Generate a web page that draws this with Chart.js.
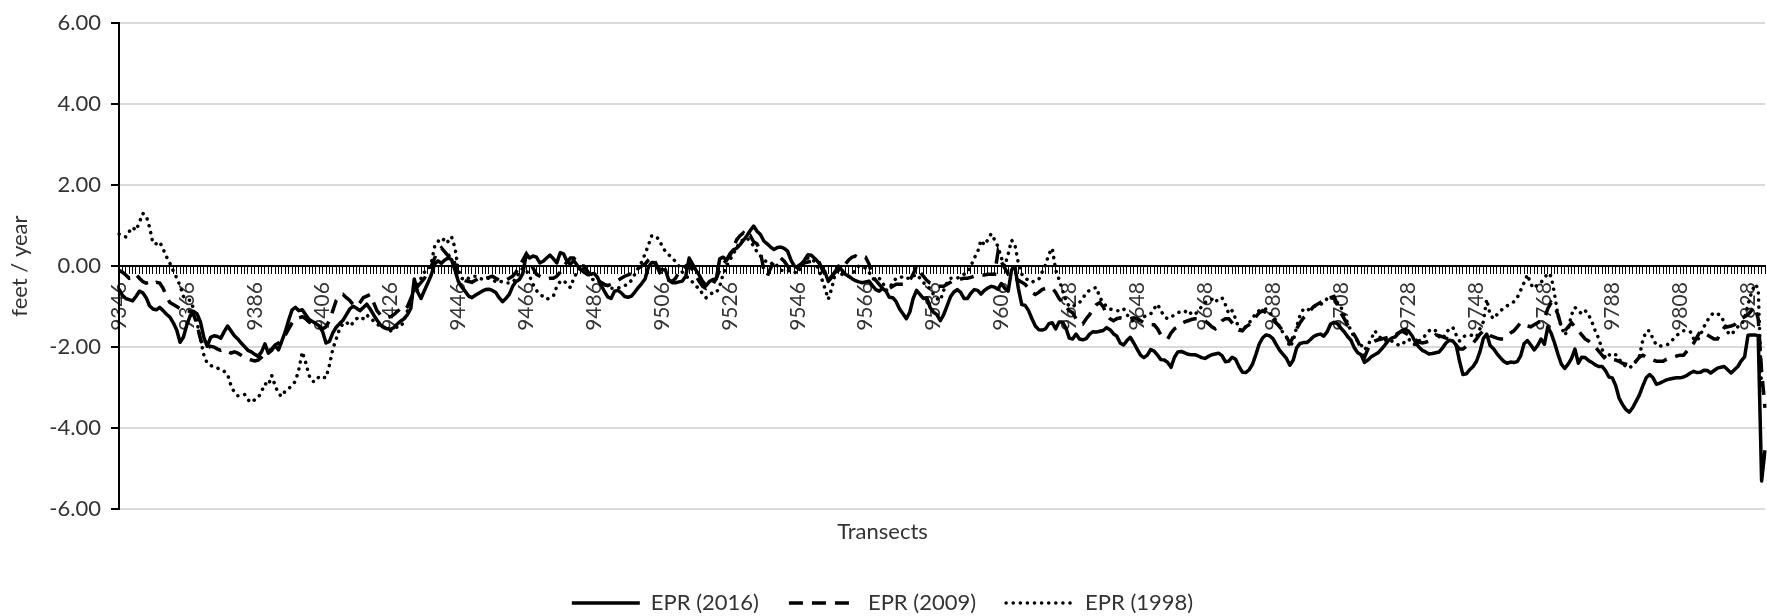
<!DOCTYPE html>
<html lang="en">
<head>
<meta charset="UTF-8" />
<title>EPR by transect</title>
<style>
  html, body { margin: 0; padding: 0; background: #fff; }
  #wrap { width: 1767px; height: 616px; }
</style>
</head>
<body>
<div id="wrap"><canvas id="eprChart" width="1767" height="616"></canvas></div>

<script src="https://cdn.jsdelivr.net/npm/chart.js"></script>
<script>
  // transect IDs run in two blocks (a couple of IDs are missing before 9628)
  const transectRuns = [[9346, 9609], [9612, 9833]];
  const labelEvery = 20;
  const yTicks = [-6, -4, -2, 0, 2, 4, 6];
  const seriesNames = ['EPR (2016)', 'EPR (2009)', 'EPR (1998)'];

  const epr2016 = [
    -0.57,-0.72,-0.80,-0.83,-0.86,-0.75,-0.62,-0.66,-0.78,-0.98,
    -1.06,-1.08,-1.02,-1.10,-1.19,-1.26,-1.40,-1.58,-1.88,-1.75,
    -1.45,-1.22,-1.12,-1.18,-1.38,-1.76,-1.98,-1.76,-1.72,-1.74,
    -1.78,-1.62,-1.48,-1.60,-1.72,-1.80,-1.90,-1.99,-2.08,-2.12,
    -2.18,-2.23,-2.12,-1.92,-2.15,-2.08,-1.96,-2.07,-1.85,-1.62,
    -1.33,-1.08,-1.02,-1.10,-1.08,-1.20,-1.32,-1.37,-1.42,-1.48,
    -1.62,-1.90,-1.86,-1.65,-1.51,-1.42,-1.34,-1.20,-1.06,-0.99,
    -1.04,-1.10,-1.02,-0.94,-1.06,-1.20,-1.33,-1.45,-1.52,-1.55,
    -1.56,-1.52,-1.43,-1.36,-1.30,-1.20,-1.04,-0.32,-0.64,-0.80,
    -0.60,-0.42,-0.22,0.05,0.13,0.07,0.15,0.20,0.16,-0.10,
    -0.38,-0.52,-0.62,-0.74,-0.78,-0.72,-0.67,-0.62,-0.58,-0.57,
    -0.60,-0.65,-0.78,-0.88,-0.80,-0.70,-0.50,-0.38,-0.33,-0.18,
    0.30,0.20,0.25,0.22,0.08,0.12,0.20,0.27,0.18,0.08,
    0.33,0.30,0.12,0.05,0.14,0.02,-0.08,-0.15,-0.20,-0.20,
    -0.18,-0.28,-0.46,-0.62,-0.76,-0.80,-0.62,-0.60,-0.66,-0.75,
    -0.77,-0.74,-0.64,-0.53,-0.43,-0.32,-0.02,0.09,0.08,-0.06,
    -0.09,-0.09,-0.35,-0.41,-0.41,-0.39,-0.37,-0.25,0.20,0.05,
    -0.10,-0.23,-0.38,-0.48,-0.38,-0.33,-0.32,0.18,0.22,0.15,
    0.30,0.40,0.44,0.53,0.64,0.75,0.88,0.99,0.86,0.78,
    0.62,0.55,0.47,0.41,0.46,0.47,0.44,0.37,0.15,0.00,
    -0.05,0.05,0.15,0.28,0.27,0.19,0.10,-0.02,-0.14,-0.38,
    -0.28,-0.14,0.00,-0.10,-0.20,-0.25,-0.31,-0.36,-0.39,-0.41,
    -0.39,-0.37,-0.48,-0.58,-0.62,-0.55,-0.62,-0.77,-0.78,-0.88,
    -1.06,-1.18,-1.30,-1.14,-0.80,-0.60,-0.70,-0.80,-0.78,-1.02,
    -1.14,-1.20,-1.35,-1.20,-0.98,-0.76,-0.64,-0.58,-0.65,-0.80,
    -0.80,-0.67,-0.58,-0.60,-0.69,-0.60,-0.54,-0.50,-0.52,-0.57,
    -0.43,-0.55,-0.62,-0.09,-0.02,-0.55,-0.95,-0.97,-1.10,-1.30,
    -1.48,-1.57,-1.58,-1.55,-1.42,-1.40,-1.55,-1.38,-1.38,-1.53,
    -1.78,-1.80,-1.68,-1.80,-1.82,-1.79,-1.68,-1.62,-1.63,-1.61,
    -1.59,-1.52,-1.57,-1.67,-1.73,-1.90,-1.95,-1.84,-1.76,-1.90,
    -2.05,-2.20,-2.26,-2.20,-2.06,-2.10,-2.20,-2.31,-2.32,-2.38,
    -2.50,-2.25,-2.12,-2.11,-2.14,-2.18,-2.19,-2.19,-2.22,-2.26,
    -2.28,-2.23,-2.19,-2.17,-2.15,-2.21,-2.36,-2.35,-2.25,-2.30,
    -2.48,-2.62,-2.63,-2.56,-2.42,-2.18,-1.92,-1.77,-1.70,-1.72,
    -1.79,-1.94,-2.08,-2.18,-2.28,-2.45,-2.32,-2.02,-1.91,-1.89,
    -1.89,-1.82,-1.74,-1.70,-1.68,-1.73,-1.62,-1.43,-1.39,-1.42,
    -1.53,-1.62,-1.74,-1.83,-2.02,-2.14,-2.19,-2.38,-2.32,-2.24,
    -2.19,-2.14,-2.05,-1.95,-1.84,-1.78,-1.75,-1.66,-1.60,-1.56,
    -1.61,-1.72,-1.88,-2.00,-2.08,-2.12,-2.17,-2.16,-2.14,-2.12,
    -2.02,-1.90,-1.83,-1.85,-1.95,-2.35,-2.68,-2.66,-2.56,-2.48,
    -2.35,-2.12,-1.79,-1.68,-1.96,-2.04,-2.16,-2.26,-2.35,-2.40,
    -2.37,-2.38,-2.36,-2.22,-1.92,-1.84,-1.95,-2.07,-1.96,-1.80,
    -1.93,-1.50,-1.66,-1.90,-2.18,-2.42,-2.53,-2.42,-2.28,-2.05,
    -2.40,-2.25,-2.26,-2.33,-2.38,-2.44,-2.48,-2.48,-2.58,-2.74,
    -2.76,-2.95,-3.26,-3.42,-3.54,-3.61,-3.50,-3.34,-3.18,-2.96,
    -2.76,-2.68,-2.76,-2.92,-2.89,-2.85,-2.81,-2.79,-2.77,-2.76,
    -2.76,-2.74,-2.70,-2.64,-2.60,-2.63,-2.62,-2.57,-2.58,-2.64,
    -2.58,-2.52,-2.50,-2.48,-2.56,-2.64,-2.56,-2.48,-2.34,-2.24,
    -1.71,-1.70,-1.70,-1.72,-5.31,-4.55
  ];

  const epr2009 = [
    -0.10,-0.15,-0.22,-0.30,-0.28,-0.20,-0.30,-0.38,-0.42,-0.40,
    -0.45,-0.40,-0.42,-0.55,-0.75,-0.90,-0.95,-1.00,-1.05,-1.05,
    -1.10,-1.12,-1.20,-1.45,-1.80,-2.00,-2.02,-1.98,-2.00,-2.05,
    -2.08,-2.05,-2.10,-2.15,-2.12,-2.15,-2.20,-2.25,-2.30,-2.32,
    -2.34,-2.32,-2.25,-2.15,-2.10,-2.05,-1.95,-1.90,-1.80,-1.70,
    -1.55,-1.40,-1.30,-1.28,-1.25,-1.30,-1.38,-1.42,-1.45,-1.50,
    -1.55,-1.50,-1.35,-1.10,-0.85,-0.72,-0.70,-0.78,-0.85,-0.95,
    -1.00,-0.90,-0.78,-0.74,-0.70,-0.90,-1.10,-1.20,-1.25,-1.28,
    -1.25,-1.20,-1.12,-1.05,-1.10,-1.00,-0.80,-0.60,-0.50,-0.40,
    -0.30,-0.15,0.00,0.20,0.35,0.45,0.35,0.25,0.30,0.05,
    -0.20,-0.32,-0.36,-0.38,-0.40,-0.35,-0.30,-0.28,-0.30,-0.28,
    -0.25,-0.30,-0.35,-0.38,-0.35,-0.30,-0.25,-0.15,0.00,0.15,
    0.30,0.15,-0.05,-0.20,-0.25,-0.30,-0.32,-0.30,-0.30,-0.25,
    -0.15,0.00,0.10,0.20,0.20,0.10,0.02,0.00,-0.12,-0.25,
    -0.30,-0.35,-0.40,-0.45,-0.48,-0.45,-0.40,-0.35,-0.30,-0.25,
    -0.22,-0.18,-0.10,-0.05,0.00,0.05,0.15,0.22,0.10,-0.10,
    -0.25,-0.30,-0.35,-0.38,-0.30,-0.15,-0.05,0.00,0.05,-0.10,
    -0.25,-0.38,-0.50,-0.55,-0.50,-0.45,-0.30,-0.10,0.05,0.15,
    0.25,0.45,0.65,0.75,0.82,0.70,0.75,0.60,0.55,0.35,
    -0.10,-0.25,-0.05,0.10,0.15,0.20,0.12,0.00,-0.08,-0.05,
    0.00,0.05,0.08,0.10,0.12,0.15,0.15,-0.05,-0.20,-0.35,
    -0.25,-0.15,-0.10,-0.08,0.05,0.15,0.22,0.25,0.20,0.22,
    0.22,0.05,-0.25,-0.35,-0.45,-0.55,-0.62,-0.55,-0.50,-0.45,
    -0.45,-0.45,-0.40,-0.35,-0.20,0.00,-0.15,-0.25,-0.35,-0.42,
    -0.45,-0.48,-0.50,-0.50,-0.45,-0.40,-0.35,-0.35,-0.32,-0.30,
    -0.30,-0.28,-0.25,-0.25,-0.22,-0.22,-0.20,-0.20,-0.20,0.35,
    0.10,-0.05,-0.20,-0.20,-0.30,-0.35,-0.40,-0.45,-0.55,-0.65,
    -0.70,-0.65,-0.58,-0.55,-0.55,-0.55,-0.65,-0.80,-0.90,-1.00,
    -1.10,-1.15,-1.30,-1.40,-1.43,-1.30,-1.20,-1.05,-0.95,-0.90,
    -1.00,-1.20,-1.30,-1.35,-1.30,-1.28,-1.30,-1.32,-1.30,-1.28,
    -1.30,-1.35,-1.40,-1.42,-1.45,-1.45,-1.55,-1.70,-1.78,-1.80,
    -1.65,-1.55,-1.50,-1.42,-1.38,-1.35,-1.32,-1.30,-1.30,-1.30,
    -1.35,-1.42,-1.50,-1.55,-1.45,-1.35,-1.30,-1.30,-1.40,-1.50,
    -1.58,-1.60,-1.50,-1.45,-1.40,-1.25,-1.15,-1.10,-1.15,-1.22,
    -1.30,-1.40,-1.50,-1.60,-1.75,-1.90,-1.75,-1.55,-1.40,-1.28,
    -1.20,-1.10,-1.00,-0.95,-0.90,-0.85,-0.80,-0.78,-0.75,-0.95,
    -1.15,-1.30,-1.45,-1.60,-1.70,-1.85,-2.05,-2.25,-2.05,-1.90,
    -1.85,-1.82,-1.80,-1.78,-1.76,-1.75,-1.70,-1.65,-1.60,-1.65,
    -1.70,-1.75,-1.82,-1.88,-1.90,-1.88,-1.85,-1.78,-1.70,-1.72,
    -1.75,-1.78,-1.80,-1.85,-1.95,-2.05,-2.05,-1.98,-1.92,-1.90,
    -1.80,-1.68,-1.60,-1.65,-1.72,-1.75,-1.78,-1.80,-1.80,-1.72,
    -1.65,-1.60,-1.50,-1.40,-1.42,-1.48,-1.50,-1.45,-1.40,-1.35,
    -1.30,-1.05,-0.90,-1.00,-1.20,-1.50,-1.60,-1.50,-1.40,-1.50,
    -1.60,-1.70,-1.80,-1.85,-1.92,-2.00,-2.10,-2.20,-2.30,-2.30,
    -2.30,-2.32,-2.35,-2.40,-2.42,-2.45,-2.45,-2.35,-2.25,-2.20,
    -2.25,-2.30,-2.32,-2.35,-2.35,-2.35,-2.30,-2.28,-2.25,-2.22,
    -2.20,-2.20,-2.10,-2.00,-1.90,-1.75,-1.60,-1.65,-1.70,-1.75,
    -1.80,-1.80,-1.65,-1.52,-1.50,-1.48,-1.45,-1.35,-1.30,-1.25,
    -1.20,-1.10,-1.00,-1.30,-2.60,-3.50
  ];

  const epr1998 = [
    0.79,0.75,0.72,0.85,0.96,0.88,1.08,1.30,1.25,0.96,
    0.56,0.55,0.60,0.42,0.23,0.07,-0.12,-0.29,-0.49,-0.75,
    -0.82,-0.85,-1.05,-1.40,-1.80,-2.20,-2.40,-2.45,-2.50,-2.52,
    -2.55,-2.60,-2.68,-2.95,-3.12,-3.20,-3.20,-3.17,-3.30,-3.37,
    -3.30,-3.25,-3.10,-2.90,-2.95,-2.70,-2.95,-3.15,-3.22,-3.08,
    -3.02,-2.95,-2.84,-2.55,-2.12,-2.38,-2.70,-2.85,-2.85,-2.72,
    -2.74,-2.76,-2.45,-2.05,-1.80,-1.55,-1.42,-1.38,-1.48,-1.40,
    -1.30,-1.25,-1.30,-1.20,-1.30,-1.35,-1.42,-1.50,-1.50,-1.55,
    -1.60,-1.55,-1.50,-1.50,-1.35,-1.10,-0.85,-0.60,-0.45,-0.30,
    -0.15,-0.10,0.07,0.48,0.62,0.58,0.70,0.60,0.72,0.45,
    -0.10,-0.30,-0.35,-0.30,-0.25,-0.25,-0.30,-0.32,-0.30,-0.30,
    -0.35,-0.38,-0.35,-0.40,-0.42,-0.42,-0.40,-0.30,-0.15,-0.05,
    -0.10,-0.25,-0.45,-0.60,-0.70,-0.75,-0.82,-0.78,-0.74,-0.50,
    -0.38,-0.35,-0.45,-0.53,-0.30,-0.15,0.00,-0.10,-0.20,-0.30,
    -0.35,-0.38,-0.40,-0.45,-0.50,-0.55,-0.55,-0.55,-0.50,-0.48,
    -0.45,-0.35,-0.20,-0.05,0.10,0.30,0.52,0.76,0.72,0.68,
    0.50,0.36,0.28,0.20,0.11,0.00,-0.15,-0.25,-0.30,-0.40,
    -0.50,-0.55,-0.70,-0.78,-0.70,-0.66,-0.66,-0.50,-0.20,0.00,
    0.15,0.30,0.45,0.60,0.65,0.70,0.60,0.50,0.35,0.25,
    0.15,0.10,0.05,0.10,0.00,-0.10,-0.12,-0.10,-0.15,-0.15,
    -0.18,0.00,0.10,0.20,0.20,0.10,-0.05,-0.30,-0.55,-0.82,
    -0.55,-0.20,-0.10,-0.20,-0.25,-0.25,-0.20,-0.10,0.00,0.00,
    -0.05,-0.15,-0.30,-0.35,-0.30,-0.40,-0.60,-0.55,-0.40,-0.30,
    -0.30,-0.25,-0.30,-0.30,-0.25,-0.20,-0.30,-0.40,-0.50,-0.55,
    -0.70,-0.80,-0.85,-0.60,-0.40,-0.30,-0.30,-0.30,-0.25,-0.20,
    -0.15,0.00,0.20,0.35,0.64,0.52,0.65,0.80,0.65,0.48,
    0.20,0.00,0.30,0.64,0.52,0.07,-0.20,-0.30,-0.35,-0.40,
    -0.35,-0.33,-0.15,0.03,0.30,0.44,-0.10,-0.33,-0.60,-0.85,
    -1.00,-1.00,-0.95,-0.90,-0.80,-0.65,-0.60,-0.55,-0.53,-0.78,
    -0.90,-1.00,-1.06,-1.08,-1.10,-1.10,-1.05,-1.20,-1.30,-1.38,
    -1.35,-1.30,-1.25,-1.22,-1.18,-1.05,-0.94,-1.10,-1.25,-1.30,
    -1.26,-1.20,-1.15,-1.12,-1.10,-1.20,-1.15,-1.20,-1.10,-1.00,
    -0.90,-0.85,-0.82,-0.90,-0.80,-0.78,-0.95,-1.18,-1.10,-1.30,
    -1.55,-1.60,-1.50,-1.40,-1.30,-1.15,-1.10,-1.08,-1.06,-1.15,
    -1.25,-1.35,-1.50,-1.65,-1.75,-2.00,-1.85,-1.50,-1.22,-1.06,
    -1.10,-1.05,-1.00,-0.98,-0.95,-0.90,-0.80,-0.75,-0.85,-0.90,
    -1.00,-1.20,-1.40,-1.60,-1.75,-1.85,-1.95,-2.07,-1.95,-1.80,
    -1.60,-1.70,-1.80,-1.85,-1.80,-1.85,-1.90,-1.95,-1.95,-1.85,
    -1.80,-1.90,-1.95,-1.85,-1.80,-1.70,-1.60,-1.55,-1.60,-1.75,
    -1.80,-1.65,-1.55,-1.51,-1.70,-1.85,-1.75,-1.71,-1.70,-1.72,
    -1.75,-1.55,-1.38,-0.82,-1.20,-1.30,-1.20,-1.10,-1.05,-0.98,
    -0.94,-0.88,-0.78,-0.60,-0.41,-0.21,-0.45,-0.55,-0.45,-0.40,
    -0.30,-0.17,-0.25,-0.70,-1.22,-1.50,-1.71,-1.55,-1.20,-1.02,
    -1.10,-1.18,-1.10,-1.20,-1.38,-1.60,-1.79,-2.05,-2.28,-2.20,
    -2.15,-2.19,-2.30,-2.40,-2.48,-2.52,-2.45,-2.35,-2.23,-1.83,
    -1.60,-1.60,-1.80,-1.95,-1.98,-1.96,-1.95,-1.90,-1.80,-1.71,
    -1.65,-1.60,-1.60,-1.62,-1.80,-1.85,-1.70,-1.50,-1.35,-1.22,
    -1.15,-1.18,-1.22,-1.40,-1.63,-1.70,-1.60,-1.50,-1.45,-1.30,
    -0.95,-0.66,-0.45,-0.55,-3.05,-3.15
  ];

  const transects = [];
  transectRuns.forEach(function (run) {
    for (let t = run[0]; t <= run[1]; t++) transects.push(String(t));
  });

  const fontFamily = 'Lato, "Liberation Sans", sans-serif';
  const textColor = '#333333';

  new Chart(document.getElementById('eprChart'), {
    type: 'line',
    data: {
      labels: transects,
      datasets: [
        { label: seriesNames[0], data: epr2016, borderColor: '#000', borderWidth: 3.5,
          borderJoinStyle: 'round', borderCapStyle: 'butt' },
        { label: seriesNames[1], data: epr2009, borderColor: '#000', borderWidth: 3.5,
          borderDash: [14, 9], borderCapStyle: 'butt' },
        { label: seriesNames[2], data: epr1998, borderColor: '#000', borderWidth: 3.5,
          borderDash: [0.1, 7], borderCapStyle: 'round' }
      ]
    },
    options: {
      responsive: false,
      animation: false,
      elements: { point: { radius: 0 }, line: { tension: 0, fill: false } },
      layout: { padding: { top: 16, right: 2, bottom: -8, left: 0 } },
      scales: {
        x: {
          type: 'category',
          position: { y: 0 },
          offset: false,
          grid: { drawOnChartArea: false, drawTicks: true, tickLength: 7, color: '#000', lineWidth: 1 },
          border: { color: '#000', width: 2 },
          ticks: {
            autoSkip: false, minRotation: 90, maxRotation: 90, padding: 9,
            color: textColor, font: { family: fontFamily, size: 21 },
            callback: function (v, i) { return i % labelEvery === 0 ? transects[i] : ''; }
          },
          afterFit: function (s) { s.height = 0; s.paddingLeft = 0; s.paddingRight = 0; }
        },
        y: {
          min: -6, max: 6,
          afterBuildTicks: function (s) { s.ticks = yTicks.map(function (v) { return { value: v }; }); },
          grid: { color: '#d9d9d9', lineWidth: 2, tickColor: '#000', tickLength: 8 },
          border: { color: '#000', width: 2 },
          ticks: {
            padding: 10, color: textColor, font: { family: fontFamily, size: 22 },
            callback: function (v) { return Number(v).toFixed(2); }
          },
          title: {
            display: true, text: 'feet / year', color: textColor,
            font: { family: fontFamily, size: 22 }, padding: { top: 7, bottom: 0 }
          },
          afterFit: function (s) { s.width = 119; }
        }
      },
      plugins: {
        title: {
          display: true, text: 'Transects', position: 'bottom', weight: 500,
          color: textColor, font: { family: fontFamily, size: 22, weight: 'normal' },
          padding: { top: 10, bottom: 16.6 }
        },
        legend: {
          position: 'bottom',
          labels: {
            usePointStyle: true, pointStyle: 'line', pointStyleWidth: 68, padding: 30,
            color: textColor, font: { family: fontFamily, size: 22 },
            // point-style legend items ignore the dataset dash, so copy it over
            generateLabels: function (chart) {
              const items = Chart.defaults.plugins.legend.labels.generateLabels(chart);
              items.forEach(function (item) {
                const ds = chart.data.datasets[item.datasetIndex];
                item.lineDash = ds.borderDash || [];
                item.lineCap = ds.borderCapStyle || 'butt';
                item.lineWidth = ds.borderWidth;
                item.strokeStyle = ds.borderColor;
                item.pointStyle = 'line';
              });
              return items;
            }
          }
        },
        tooltip: { enabled: false }
      }
    }
  });
</script>
</body>
</html>
